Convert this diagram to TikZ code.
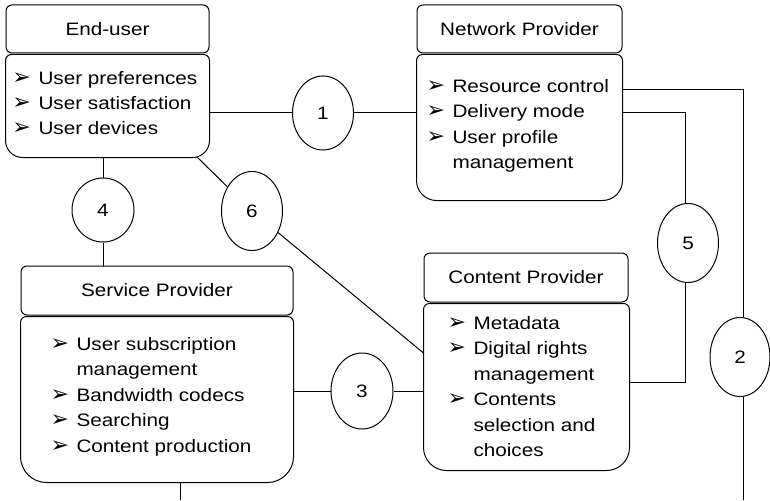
\documentclass[tikz,border=0pt]{standalone}
\usepackage{fontspec}
\setmainfont{Liberation Sans}[FakeStretch=1.15]
\newfontfamily\bulfont{DejaVu Sans}
\usetikzlibrary{shapes.geometric,calc}
\newcommand\bul{\makebox[26pt][l]{\bulfont\fontsize{22}{22}\selectfont ➢}}
\newcommand\ind{\hspace*{26pt}}
\newcommand\bodyline[2]{\draw[rounded corners=6pt] (#1.west) -- (#1.north west) -- (#1.north east) -- (#1.east) [rounded corners=#2] -- (#1.south east) -- (#1.south west) -- cycle;}
\begin{document}
\begin{tikzpicture}[x=1pt,y=-1pt,line width=1pt,
  every node/.style={font=\fontsize{18}{25.5}\selectfont},
  head/.style={draw, rounded corners=6pt, inner sep=0pt, minimum height=48pt},
  frame/.style={inner sep=0pt, draw=none},
  circ/.style={ellipse, draw, inner sep=0pt, minimum width=61pt, minimum height=78pt},
  items/.style={align=left, anchor=base west, inner sep=0pt}]
\useasboundingbox (0,0) rectangle (770,500);
% End-user
\node[head, minimum width=203pt] (euh) at (107.5,29) {End-user};
\node[frame, minimum width=203pt, minimum height=102pt] (eub) at (107.5,106) {};
\bodyline{eub}{17pt}
\node[items] (eut) at (12,135) {\bul User preferences\\\bul User satisfaction\\\bul User devices};
% Network provider
\node[head, minimum width=205pt] (nph) at (519.5,29) {Network Provider};
\node[frame, minimum width=205pt, minimum height=145pt] (npb) at (519.5,127.5) {};
\bodyline{npb}{20pt}
\node[items] (npt) at (426,168.5) {\bul Resource control\\\bul Delivery mode\\\bul User profile\\\ind management};
% Service provider
\node[head, minimum width=272pt, minimum height=49pt] (sph) at (157,290.5) {Service Provider};
\node[frame, minimum width=272pt, minimum height=165pt] (spb) at (157,399.5) {};
\bodyline{spb}{26pt}
\node[items] (spt) at (50,452) {\bul User subscription\\\ind management\\\bul Bandwidth codecs\\\bul Searching\\\bul Content production};
% Content provider
\node[head, minimum width=204pt, minimum height=49pt] (cph) at (526,277.5) {Content Provider};
\node[frame, minimum width=205pt, minimum height=166pt] (cpb) at (526.5,387) {};
\bodyline{cpb}{23pt}
\node[items] (cpt) at (447,456.5) {\bul Metadata\\\bul Digital rights\\\ind management\\\bul Contents\\\ind selection and\\\ind choices};
% circles
\node[circ, minimum height=74pt] (c1) at (323,113) {1};
\node[circ, minimum width=60pt, minimum height=79pt] (c2) at (740,357) {2};
\node[circ, minimum width=62pt, minimum height=76pt] (c3) at (362,391) {3};
\node[circ, minimum width=62pt, minimum height=64pt] (c4) at (103,210) {4};
\node[circ, minimum height=79pt] (c5) at (688,243) {5};
\node[circ, minimum height=79pt] (c6) at (252,211) {6};
% connectors
\draw (eub.east |- c1.west) -- (c1.west);
\draw (c1.east) -- (c1.east -| npb.west);
\coordinate (k2) at (743,90);
\coordinate (b2) at (743,500);
\draw (k2 -| npb.east) -- (k2) -- (k2 |- c2.north);
\draw (k2 |- c2.south) -- (b2);
\coordinate (k5) at (685,113);
\coordinate (k5b) at (685,382);
\draw (k5 -| npb.east) -- (k5) -- (k5 |- c5.north);
\draw (k5 |- c5.south) -- (k5b) -- (k5b -| cpb.east);
\draw (spb.east |- c3.west) -- (c3.west);
\draw (c3.east) -- (c3.east -| cpb.west);
\draw (c4.north |- eub.south) -- (c4.north);
\draw (c4.south) -- (c4.south |- sph.north);
\coordinate (k6) at (197,157);
\coordinate (k6b) at (425,353);
\draw (k6) -- (c6);
\draw (c6) -- (k6b -| cpb.west);
\coordinate (b1) at (180,500);
\draw (b1 |- spb.south) -- (b1);
\end{tikzpicture}
\end{document}
